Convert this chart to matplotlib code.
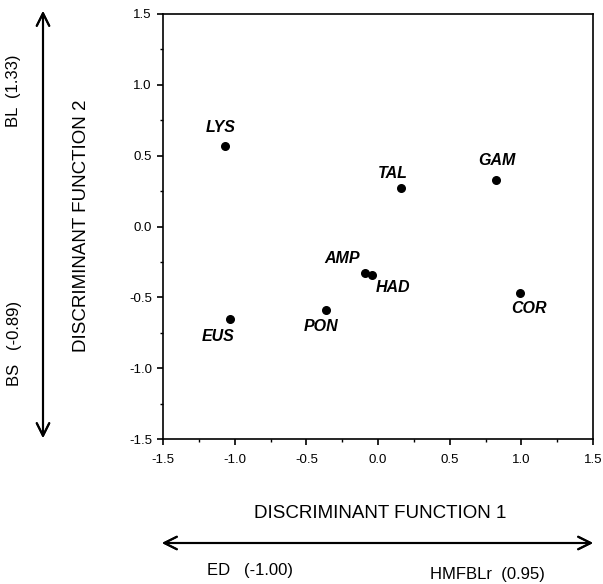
import numpy as np
import matplotlib.pyplot as plt
from matplotlib.ticker import MultipleLocator

plt.rcParams['font.family'] = ['Liberation Sans', 'DejaVu Sans']

# group centroids on the two discriminant functions
groups = ['LYS', 'EUS', 'PON', 'AMP', 'HAD', 'TAL', 'GAM', 'COR']
df1 = [-1.07, -1.03, -0.36, -0.09, -0.04, 0.16, 0.82, 0.99]
df2 = [0.57, -0.65, -0.59, -0.33, -0.34, 0.27, 0.33, -0.47]
# label offsets in pixels (dx, dy)
offs = [(-4, 18), (-12, -18), (-5, -16), (-23, 15), (21, -13), (-8, 15), (1, 19), (9, -15)]

ticks = [-1.5, -1.0, -0.5, 0.0, 0.5, 1.0, 1.5]

W, H = 603, 584
fig = plt.figure(figsize=(W/100, H/100), dpi=100)
ax = fig.add_axes([163/W, 1-439/H, (593-163)/W, (439-14)/H])

ax.scatter(df1, df2, s=30, color='black', zorder=3)
for g, x, y, (dx, dy) in zip(groups, df1, df2, offs):
    ax.annotate(g, (x, y), xytext=(dx, dy), textcoords='offset pixels',
                ha='center', va='center', fontsize=11.5, fontweight='bold', fontstyle='italic')

ax.set_xlim(-1.5, 1.5)
ax.set_ylim(-1.5, 1.5)
ax.set_xticks(ticks)
ax.set_yticks(ticks)
ax.set_xticklabels(['%.1f' % t for t in ticks], fontsize=9.5)
ax.set_yticklabels(['%.1f' % t for t in ticks], fontsize=9.5)
ax.xaxis.set_minor_locator(MultipleLocator(0.25))
ax.yaxis.set_minor_locator(MultipleLocator(0.25))
ax.tick_params(which='major', direction='out', length=4, width=1.2)
ax.tick_params(which='minor', direction='out', length=2, width=1)
ax.tick_params(axis='x', which='major', pad=7)
ax.tick_params(axis='y', which='major', pad=4)
for sp in ax.spines.values():
    sp.set_linewidth(1.2)

def fx(px):
    return px / W

def fy(py):
    return 1 - py / H

# axis titles
fig.text(fx(380), fy(513), 'DISCRIMINANT FUNCTION 1', ha='center', va='center', fontsize=13.5)
fig.text(fx(81), fy(226), 'DISCRIMINANT FUNCTION 2', ha='center', va='center', fontsize=13.5, rotation=90)

# loading arrows
arr = dict(arrowstyle='<->,head_length=0.9,head_width=0.45', lw=1.5, color='black',
           shrinkA=0, shrinkB=0)
fig.add_artist(plt.annotate('', xy=(fx(162), fy(543)), xytext=(fx(593), fy(543)),
                            xycoords='figure fraction', arrowprops=arr))
fig.add_artist(plt.annotate('', xy=(fx(43), fy(11)), xytext=(fx(43), fy(438)),
                            xycoords='figure fraction', arrowprops=arr))

fig.text(fx(250), fy(571), 'ED   (-1.00)', ha='center', va='center', fontsize=12)
fig.text(fx(487), fy(574), 'HMFBLr  (0.95)', ha='center', va='center', fontsize=12)
fig.text(fx(14), fy(91), 'BL  (1.33)', ha='center', va='center', fontsize=12, rotation=90)
fig.text(fx(15), fy(343), 'BS   (-0.89)', ha='center', va='center', fontsize=12, rotation=90)

fig.savefig('out.png', dpi=100)
